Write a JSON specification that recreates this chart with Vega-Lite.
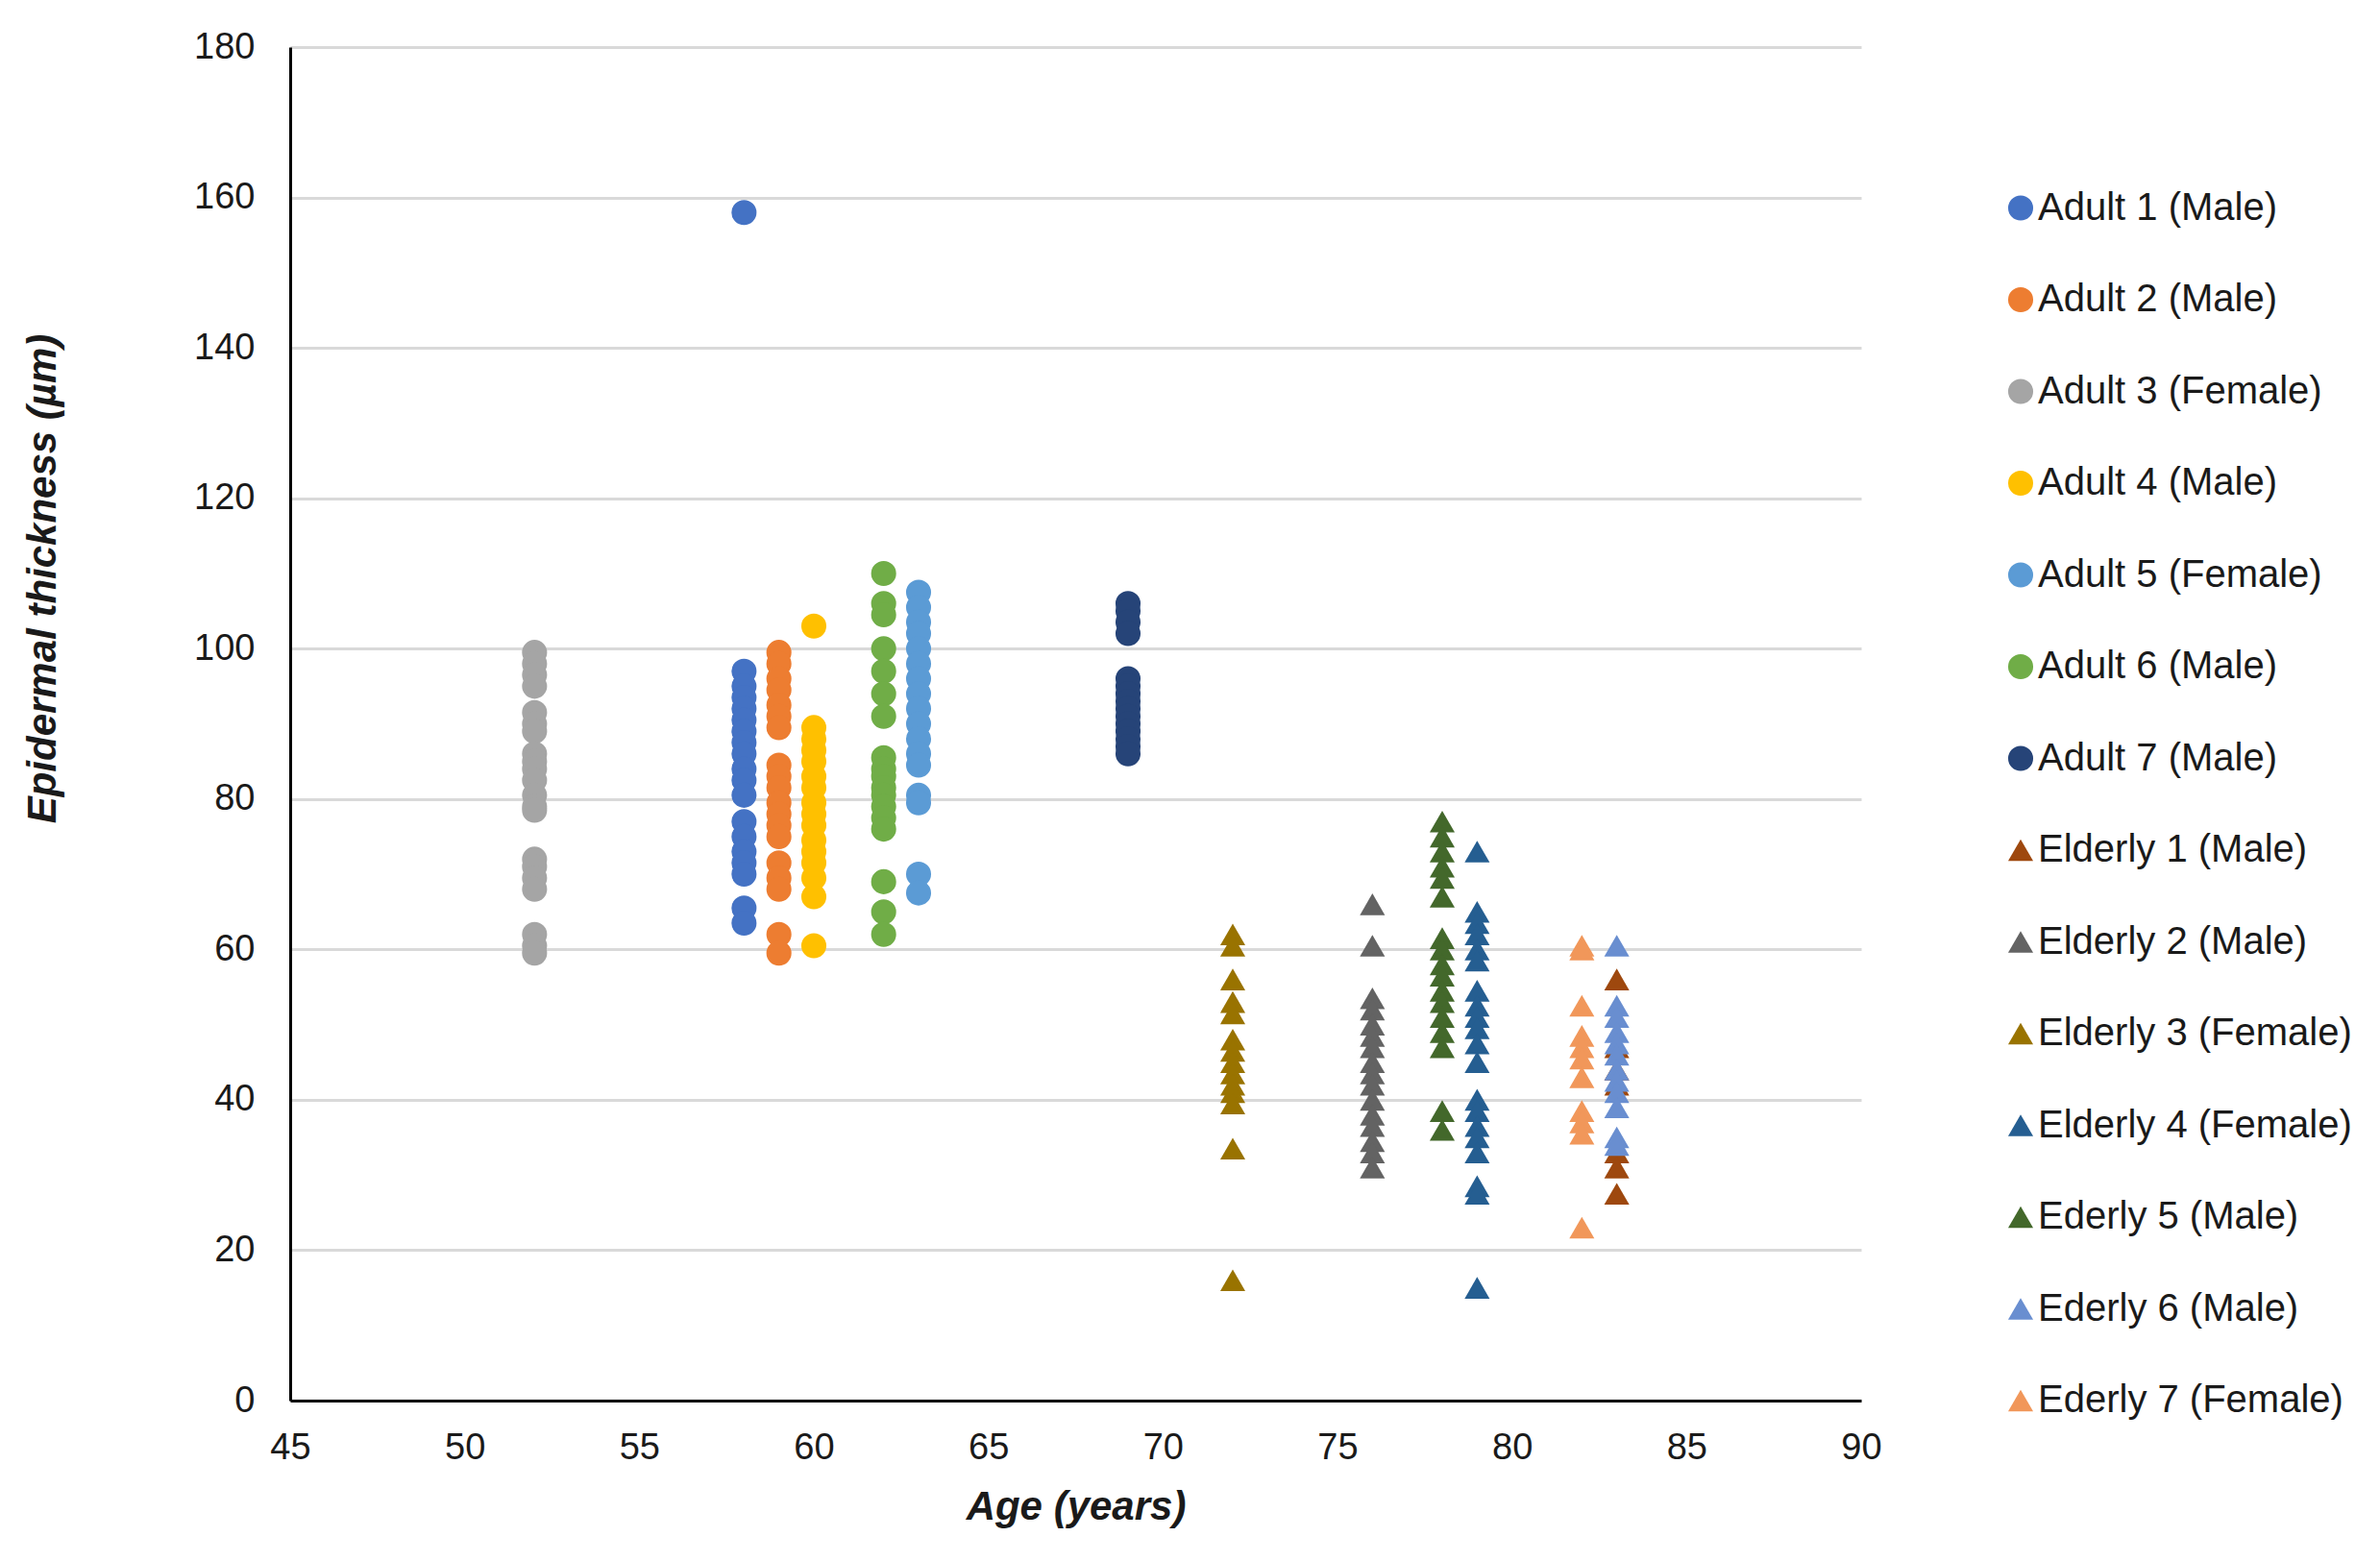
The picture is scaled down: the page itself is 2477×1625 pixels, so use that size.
{
  "$schema": "https://vega.github.io/schema/vega-lite/v6.json",
  "autosize": {"type": "none"},
  "padding": {"left": 302, "top": 49, "right": 540, "bottom": 167},
  "width": 1635,
  "height": 1409,
  "background": "#ffffff",
  "view": {"stroke": null},
  "config": {
    "font": "Liberation Sans",
    "axis": {"labelFont": "Liberation Sans", "titleFont": "Liberation Sans"}
  },
  "datasets": {
    "points": [
      {"group": "Adult 1 (Male)", "age": 58, "thickness": 158},
      {"group": "Adult 1 (Male)", "age": 58, "thickness": 97},
      {"group": "Adult 1 (Male)", "age": 58, "thickness": 95},
      {"group": "Adult 1 (Male)", "age": 58, "thickness": 93.5},
      {"group": "Adult 1 (Male)", "age": 58, "thickness": 92},
      {"group": "Adult 1 (Male)", "age": 58, "thickness": 90.5},
      {"group": "Adult 1 (Male)", "age": 58, "thickness": 89},
      {"group": "Adult 1 (Male)", "age": 58, "thickness": 87.5},
      {"group": "Adult 1 (Male)", "age": 58, "thickness": 86},
      {"group": "Adult 1 (Male)", "age": 58, "thickness": 84},
      {"group": "Adult 1 (Male)", "age": 58, "thickness": 82.5},
      {"group": "Adult 1 (Male)", "age": 58, "thickness": 80.5},
      {"group": "Adult 1 (Male)", "age": 58, "thickness": 77},
      {"group": "Adult 1 (Male)", "age": 58, "thickness": 75},
      {"group": "Adult 1 (Male)", "age": 58, "thickness": 73},
      {"group": "Adult 1 (Male)", "age": 58, "thickness": 71.5},
      {"group": "Adult 1 (Male)", "age": 58, "thickness": 70},
      {"group": "Adult 1 (Male)", "age": 58, "thickness": 65.5},
      {"group": "Adult 1 (Male)", "age": 58, "thickness": 63.5},
      {"group": "Adult 2 (Male)", "age": 59, "thickness": 99.5},
      {"group": "Adult 2 (Male)", "age": 59, "thickness": 98},
      {"group": "Adult 2 (Male)", "age": 59, "thickness": 96},
      {"group": "Adult 2 (Male)", "age": 59, "thickness": 94.5},
      {"group": "Adult 2 (Male)", "age": 59, "thickness": 92.5},
      {"group": "Adult 2 (Male)", "age": 59, "thickness": 91},
      {"group": "Adult 2 (Male)", "age": 59, "thickness": 89.5},
      {"group": "Adult 2 (Male)", "age": 59, "thickness": 84.5},
      {"group": "Adult 2 (Male)", "age": 59, "thickness": 83},
      {"group": "Adult 2 (Male)", "age": 59, "thickness": 81.5},
      {"group": "Adult 2 (Male)", "age": 59, "thickness": 79.5},
      {"group": "Adult 2 (Male)", "age": 59, "thickness": 78},
      {"group": "Adult 2 (Male)", "age": 59, "thickness": 76.5},
      {"group": "Adult 2 (Male)", "age": 59, "thickness": 75},
      {"group": "Adult 2 (Male)", "age": 59, "thickness": 71.5},
      {"group": "Adult 2 (Male)", "age": 59, "thickness": 69.5},
      {"group": "Adult 2 (Male)", "age": 59, "thickness": 68},
      {"group": "Adult 2 (Male)", "age": 59, "thickness": 62},
      {"group": "Adult 2 (Male)", "age": 59, "thickness": 59.5},
      {"group": "Adult 3 (Female)", "age": 52, "thickness": 99.5},
      {"group": "Adult 3 (Female)", "age": 52, "thickness": 98},
      {"group": "Adult 3 (Female)", "age": 52, "thickness": 96.5},
      {"group": "Adult 3 (Female)", "age": 52, "thickness": 95},
      {"group": "Adult 3 (Female)", "age": 52, "thickness": 91.5},
      {"group": "Adult 3 (Female)", "age": 52, "thickness": 90},
      {"group": "Adult 3 (Female)", "age": 52, "thickness": 89},
      {"group": "Adult 3 (Female)", "age": 52, "thickness": 86},
      {"group": "Adult 3 (Female)", "age": 52, "thickness": 85},
      {"group": "Adult 3 (Female)", "age": 52, "thickness": 84},
      {"group": "Adult 3 (Female)", "age": 52, "thickness": 82.5},
      {"group": "Adult 3 (Female)", "age": 52, "thickness": 80.5},
      {"group": "Adult 3 (Female)", "age": 52, "thickness": 79},
      {"group": "Adult 3 (Female)", "age": 52, "thickness": 78.5},
      {"group": "Adult 3 (Female)", "age": 52, "thickness": 72},
      {"group": "Adult 3 (Female)", "age": 52, "thickness": 71},
      {"group": "Adult 3 (Female)", "age": 52, "thickness": 69.5},
      {"group": "Adult 3 (Female)", "age": 52, "thickness": 68},
      {"group": "Adult 3 (Female)", "age": 52, "thickness": 62},
      {"group": "Adult 3 (Female)", "age": 52, "thickness": 60.5},
      {"group": "Adult 3 (Female)", "age": 52, "thickness": 59.5},
      {"group": "Adult 4 (Male)", "age": 60, "thickness": 103},
      {"group": "Adult 4 (Male)", "age": 60, "thickness": 89.5},
      {"group": "Adult 4 (Male)", "age": 60, "thickness": 88},
      {"group": "Adult 4 (Male)", "age": 60, "thickness": 86.5},
      {"group": "Adult 4 (Male)", "age": 60, "thickness": 85},
      {"group": "Adult 4 (Male)", "age": 60, "thickness": 83},
      {"group": "Adult 4 (Male)", "age": 60, "thickness": 81.5},
      {"group": "Adult 4 (Male)", "age": 60, "thickness": 79.5},
      {"group": "Adult 4 (Male)", "age": 60, "thickness": 78},
      {"group": "Adult 4 (Male)", "age": 60, "thickness": 76.5},
      {"group": "Adult 4 (Male)", "age": 60, "thickness": 74.5},
      {"group": "Adult 4 (Male)", "age": 60, "thickness": 73},
      {"group": "Adult 4 (Male)", "age": 60, "thickness": 71.5},
      {"group": "Adult 4 (Male)", "age": 60, "thickness": 69.5},
      {"group": "Adult 4 (Male)", "age": 60, "thickness": 67},
      {"group": "Adult 4 (Male)", "age": 60, "thickness": 60.5},
      {"group": "Adult 5 (Female)", "age": 63, "thickness": 107.5},
      {"group": "Adult 5 (Female)", "age": 63, "thickness": 105.5},
      {"group": "Adult 5 (Female)", "age": 63, "thickness": 103.5},
      {"group": "Adult 5 (Female)", "age": 63, "thickness": 102},
      {"group": "Adult 5 (Female)", "age": 63, "thickness": 100},
      {"group": "Adult 5 (Female)", "age": 63, "thickness": 98},
      {"group": "Adult 5 (Female)", "age": 63, "thickness": 96},
      {"group": "Adult 5 (Female)", "age": 63, "thickness": 94},
      {"group": "Adult 5 (Female)", "age": 63, "thickness": 92},
      {"group": "Adult 5 (Female)", "age": 63, "thickness": 90},
      {"group": "Adult 5 (Female)", "age": 63, "thickness": 88},
      {"group": "Adult 5 (Female)", "age": 63, "thickness": 86},
      {"group": "Adult 5 (Female)", "age": 63, "thickness": 84.5},
      {"group": "Adult 5 (Female)", "age": 63, "thickness": 80.5},
      {"group": "Adult 5 (Female)", "age": 63, "thickness": 79.5},
      {"group": "Adult 5 (Female)", "age": 63, "thickness": 70},
      {"group": "Adult 5 (Female)", "age": 63, "thickness": 67.5},
      {"group": "Adult 6 (Male)", "age": 62, "thickness": 110},
      {"group": "Adult 6 (Male)", "age": 62, "thickness": 106},
      {"group": "Adult 6 (Male)", "age": 62, "thickness": 104.5},
      {"group": "Adult 6 (Male)", "age": 62, "thickness": 100},
      {"group": "Adult 6 (Male)", "age": 62, "thickness": 97},
      {"group": "Adult 6 (Male)", "age": 62, "thickness": 94},
      {"group": "Adult 6 (Male)", "age": 62, "thickness": 91},
      {"group": "Adult 6 (Male)", "age": 62, "thickness": 85.5},
      {"group": "Adult 6 (Male)", "age": 62, "thickness": 84},
      {"group": "Adult 6 (Male)", "age": 62, "thickness": 83},
      {"group": "Adult 6 (Male)", "age": 62, "thickness": 81.5},
      {"group": "Adult 6 (Male)", "age": 62, "thickness": 80.5},
      {"group": "Adult 6 (Male)", "age": 62, "thickness": 79},
      {"group": "Adult 6 (Male)", "age": 62, "thickness": 77.5},
      {"group": "Adult 6 (Male)", "age": 62, "thickness": 76},
      {"group": "Adult 6 (Male)", "age": 62, "thickness": 69},
      {"group": "Adult 6 (Male)", "age": 62, "thickness": 65},
      {"group": "Adult 6 (Male)", "age": 62, "thickness": 62},
      {"group": "Adult 7 (Male)", "age": 69, "thickness": 106},
      {"group": "Adult 7 (Male)", "age": 69, "thickness": 105},
      {"group": "Adult 7 (Male)", "age": 69, "thickness": 103.5},
      {"group": "Adult 7 (Male)", "age": 69, "thickness": 102},
      {"group": "Adult 7 (Male)", "age": 69, "thickness": 96},
      {"group": "Adult 7 (Male)", "age": 69, "thickness": 95},
      {"group": "Adult 7 (Male)", "age": 69, "thickness": 94},
      {"group": "Adult 7 (Male)", "age": 69, "thickness": 93},
      {"group": "Adult 7 (Male)", "age": 69, "thickness": 92},
      {"group": "Adult 7 (Male)", "age": 69, "thickness": 91},
      {"group": "Adult 7 (Male)", "age": 69, "thickness": 90},
      {"group": "Adult 7 (Male)", "age": 69, "thickness": 89},
      {"group": "Adult 7 (Male)", "age": 69, "thickness": 88},
      {"group": "Adult 7 (Male)", "age": 69, "thickness": 87},
      {"group": "Adult 7 (Male)", "age": 69, "thickness": 86},
      {"group": "Elderly 1 (Male)", "age": 83, "thickness": 56},
      {"group": "Elderly 1 (Male)", "age": 83, "thickness": 47},
      {"group": "Elderly 1 (Male)", "age": 83, "thickness": 44},
      {"group": "Elderly 1 (Male)", "age": 83, "thickness": 42},
      {"group": "Elderly 1 (Male)", "age": 83, "thickness": 33},
      {"group": "Elderly 1 (Male)", "age": 83, "thickness": 31},
      {"group": "Elderly 1 (Male)", "age": 83, "thickness": 27.5},
      {"group": "Elderly 2 (Male)", "age": 76, "thickness": 66},
      {"group": "Elderly 2 (Male)", "age": 76, "thickness": 60.5},
      {"group": "Elderly 2 (Male)", "age": 76, "thickness": 53.5},
      {"group": "Elderly 2 (Male)", "age": 76, "thickness": 52},
      {"group": "Elderly 2 (Male)", "age": 76, "thickness": 50},
      {"group": "Elderly 2 (Male)", "age": 76, "thickness": 48.5},
      {"group": "Elderly 2 (Male)", "age": 76, "thickness": 47},
      {"group": "Elderly 2 (Male)", "age": 76, "thickness": 45},
      {"group": "Elderly 2 (Male)", "age": 76, "thickness": 43.5},
      {"group": "Elderly 2 (Male)", "age": 76, "thickness": 42},
      {"group": "Elderly 2 (Male)", "age": 76, "thickness": 40},
      {"group": "Elderly 2 (Male)", "age": 76, "thickness": 38},
      {"group": "Elderly 2 (Male)", "age": 76, "thickness": 36.5},
      {"group": "Elderly 2 (Male)", "age": 76, "thickness": 34.5},
      {"group": "Elderly 2 (Male)", "age": 76, "thickness": 33},
      {"group": "Elderly 2 (Male)", "age": 76, "thickness": 31},
      {"group": "Elderly 3 (Female)", "age": 72, "thickness": 62},
      {"group": "Elderly 3 (Female)", "age": 72, "thickness": 60.5},
      {"group": "Elderly 3 (Female)", "age": 72, "thickness": 56},
      {"group": "Elderly 3 (Female)", "age": 72, "thickness": 53},
      {"group": "Elderly 3 (Female)", "age": 72, "thickness": 51.5},
      {"group": "Elderly 3 (Female)", "age": 72, "thickness": 48},
      {"group": "Elderly 3 (Female)", "age": 72, "thickness": 46.5},
      {"group": "Elderly 3 (Female)", "age": 72, "thickness": 45},
      {"group": "Elderly 3 (Female)", "age": 72, "thickness": 43.5},
      {"group": "Elderly 3 (Female)", "age": 72, "thickness": 42},
      {"group": "Elderly 3 (Female)", "age": 72, "thickness": 41},
      {"group": "Elderly 3 (Female)", "age": 72, "thickness": 39.5},
      {"group": "Elderly 3 (Female)", "age": 72, "thickness": 33.5},
      {"group": "Elderly 3 (Female)", "age": 72, "thickness": 16},
      {"group": "Elderly 4 (Female)", "age": 79, "thickness": 73},
      {"group": "Elderly 4 (Female)", "age": 79, "thickness": 65},
      {"group": "Elderly 4 (Female)", "age": 79, "thickness": 63.5},
      {"group": "Elderly 4 (Female)", "age": 79, "thickness": 62},
      {"group": "Elderly 4 (Female)", "age": 79, "thickness": 60},
      {"group": "Elderly 4 (Female)", "age": 79, "thickness": 58.5},
      {"group": "Elderly 4 (Female)", "age": 79, "thickness": 54.5},
      {"group": "Elderly 4 (Female)", "age": 79, "thickness": 52.5},
      {"group": "Elderly 4 (Female)", "age": 79, "thickness": 51},
      {"group": "Elderly 4 (Female)", "age": 79, "thickness": 49.5},
      {"group": "Elderly 4 (Female)", "age": 79, "thickness": 47.5},
      {"group": "Elderly 4 (Female)", "age": 79, "thickness": 45},
      {"group": "Elderly 4 (Female)", "age": 79, "thickness": 40},
      {"group": "Elderly 4 (Female)", "age": 79, "thickness": 38.5},
      {"group": "Elderly 4 (Female)", "age": 79, "thickness": 36.5},
      {"group": "Elderly 4 (Female)", "age": 79, "thickness": 35},
      {"group": "Elderly 4 (Female)", "age": 79, "thickness": 33},
      {"group": "Elderly 4 (Female)", "age": 79, "thickness": 28.5},
      {"group": "Elderly 4 (Female)", "age": 79, "thickness": 27.5},
      {"group": "Elderly 4 (Female)", "age": 79, "thickness": 15},
      {"group": "Ederly 5 (Male)", "age": 78, "thickness": 77},
      {"group": "Ederly 5 (Male)", "age": 78, "thickness": 75},
      {"group": "Ederly 5 (Male)", "age": 78, "thickness": 73},
      {"group": "Ederly 5 (Male)", "age": 78, "thickness": 71},
      {"group": "Ederly 5 (Male)", "age": 78, "thickness": 69.5},
      {"group": "Ederly 5 (Male)", "age": 78, "thickness": 67},
      {"group": "Ederly 5 (Male)", "age": 78, "thickness": 61.5},
      {"group": "Ederly 5 (Male)", "age": 78, "thickness": 60},
      {"group": "Ederly 5 (Male)", "age": 78, "thickness": 58},
      {"group": "Ederly 5 (Male)", "age": 78, "thickness": 56.5},
      {"group": "Ederly 5 (Male)", "age": 78, "thickness": 54.5},
      {"group": "Ederly 5 (Male)", "age": 78, "thickness": 53},
      {"group": "Ederly 5 (Male)", "age": 78, "thickness": 51},
      {"group": "Ederly 5 (Male)", "age": 78, "thickness": 49},
      {"group": "Ederly 5 (Male)", "age": 78, "thickness": 47},
      {"group": "Ederly 5 (Male)", "age": 78, "thickness": 38.5},
      {"group": "Ederly 5 (Male)", "age": 78, "thickness": 36},
      {"group": "Ederly 6 (Male)", "age": 83, "thickness": 60.5},
      {"group": "Ederly 6 (Male)", "age": 83, "thickness": 52.5},
      {"group": "Ederly 6 (Male)", "age": 83, "thickness": 51},
      {"group": "Ederly 6 (Male)", "age": 83, "thickness": 49},
      {"group": "Ederly 6 (Male)", "age": 83, "thickness": 47.5},
      {"group": "Ederly 6 (Male)", "age": 83, "thickness": 46},
      {"group": "Ederly 6 (Male)", "age": 83, "thickness": 44},
      {"group": "Ederly 6 (Male)", "age": 83, "thickness": 42.5},
      {"group": "Ederly 6 (Male)", "age": 83, "thickness": 41},
      {"group": "Ederly 6 (Male)", "age": 83, "thickness": 39},
      {"group": "Ederly 6 (Male)", "age": 83, "thickness": 35},
      {"group": "Ederly 6 (Male)", "age": 83, "thickness": 34},
      {"group": "Ederly 7 (Female)", "age": 82, "thickness": 60.5},
      {"group": "Ederly 7 (Female)", "age": 82, "thickness": 60},
      {"group": "Ederly 7 (Female)", "age": 82, "thickness": 52.5},
      {"group": "Ederly 7 (Female)", "age": 82, "thickness": 48.5},
      {"group": "Ederly 7 (Female)", "age": 82, "thickness": 47},
      {"group": "Ederly 7 (Female)", "age": 82, "thickness": 45.5},
      {"group": "Ederly 7 (Female)", "age": 82, "thickness": 43},
      {"group": "Ederly 7 (Female)", "age": 82, "thickness": 38.5},
      {"group": "Ederly 7 (Female)", "age": 82, "thickness": 37},
      {"group": "Ederly 7 (Female)", "age": 82, "thickness": 35.5},
      {"group": "Ederly 7 (Female)", "age": 82, "thickness": 23}
    ]
  },
  "data": {"name": "points"},
  "mark": {"type": "point", "filled": true, "opacity": 1},
  "encoding": {
    "x": {
      "field": "age",
      "type": "quantitative",
      "scale": {"domain": [45, 90], "nice": false, "zero": false},
      "axis": {
        "title": "Age (years)",
        "values": [45, 50, 55, 60, 65, 70, 75, 80, 85, 90],
        "grid": false,
        "domainColor": "#000000",
        "domainWidth": 3,
        "ticks": false,
        "labelFlush": false,
        "labelFontSize": 38,
        "labelColor": "#1a1a1a",
        "labelPadding": 30,
        "titleFontSize": 42,
        "titleFontWeight": "bold",
        "titleFontStyle": "italic",
        "titleColor": "#1a1a1a",
        "titlePadding": 22
      }
    },
    "y": {
      "field": "thickness",
      "type": "quantitative",
      "scale": {"domain": [0, 180], "nice": false},
      "axis": {
        "title": "Epidermal thickness (µm)",
        "values": [0, 20, 40, 60, 80, 100, 120, 140, 160, 180],
        "grid": true,
        "gridColor": "#d9d9d9",
        "gridWidth": 3,
        "domainColor": "#000000",
        "domainWidth": 3,
        "ticks": false,
        "labelFlush": false,
        "labelFontSize": 38,
        "labelColor": "#1a1a1a",
        "labelPadding": 37,
        "titleFontSize": 42,
        "titleFontWeight": "bold",
        "titleFontStyle": "italic",
        "titleColor": "#1a1a1a",
        "titleX": -258,
        "titleY": 553,
        "titleBaseline": "middle",
        "titleAlign": "center",
        "titleAngle": -90
      }
    },
    "size": {
      "field": "group",
      "type": "nominal",
      "scale": {
        "domain": ["Adult 1 (Male)", "Adult 2 (Male)", "Adult 3 (Female)", "Adult 4 (Male)", "Adult 5 (Female)", "Adult 6 (Male)", "Adult 7 (Male)", "Elderly 1 (Male)", "Elderly 2 (Male)", "Elderly 3 (Female)", "Elderly 4 (Female)", "Ederly 5 (Male)", "Ederly 6 (Male)", "Ederly 7 (Female)"],
        "range": [680, 680, 680, 680, 680, 680, 680, 1050, 1050, 1050, 1050, 1050, 1050, 1050]
      },
      "legend": null
    },
    "color": {
      "field": "group",
      "type": "nominal",
      "scale": {
        "domain": ["Adult 1 (Male)", "Adult 2 (Male)", "Adult 3 (Female)", "Adult 4 (Male)", "Adult 5 (Female)", "Adult 6 (Male)", "Adult 7 (Male)", "Elderly 1 (Male)", "Elderly 2 (Male)", "Elderly 3 (Female)", "Elderly 4 (Female)", "Ederly 5 (Male)", "Ederly 6 (Male)", "Ederly 7 (Female)"],
        "range": ["#4472c4", "#ed7d31", "#a5a5a5", "#ffc000", "#5b9bd5", "#70ad47", "#264478", "#9e480e", "#636363", "#997300", "#255e91", "#43682b", "#698ed0", "#f1975a"]
      },
      "legend": {
        "title": null,
        "orient": "none",
        "legendX": 1781,
        "legendY": 147.5,
        "padding": 0,
        "symbolSize": 625,
        "labelFontSize": 40,
        "labelColor": "#1a1a1a",
        "labelOffset": -2,
        "rowPadding": 55.5,
        "labelLimit": 500
      }
    },
    "shape": {
      "field": "group",
      "type": "nominal",
      "scale": {
        "domain": ["Adult 1 (Male)", "Adult 2 (Male)", "Adult 3 (Female)", "Adult 4 (Male)", "Adult 5 (Female)", "Adult 6 (Male)", "Adult 7 (Male)", "Elderly 1 (Male)", "Elderly 2 (Male)", "Elderly 3 (Female)", "Elderly 4 (Female)", "Ederly 5 (Male)", "Ederly 6 (Male)", "Ederly 7 (Female)"],
        "range": ["circle", "circle", "circle", "circle", "circle", "circle", "circle", "triangle-up", "triangle-up", "triangle-up", "triangle-up", "triangle-up", "triangle-up", "triangle-up"]
      }
    }
  }
}
